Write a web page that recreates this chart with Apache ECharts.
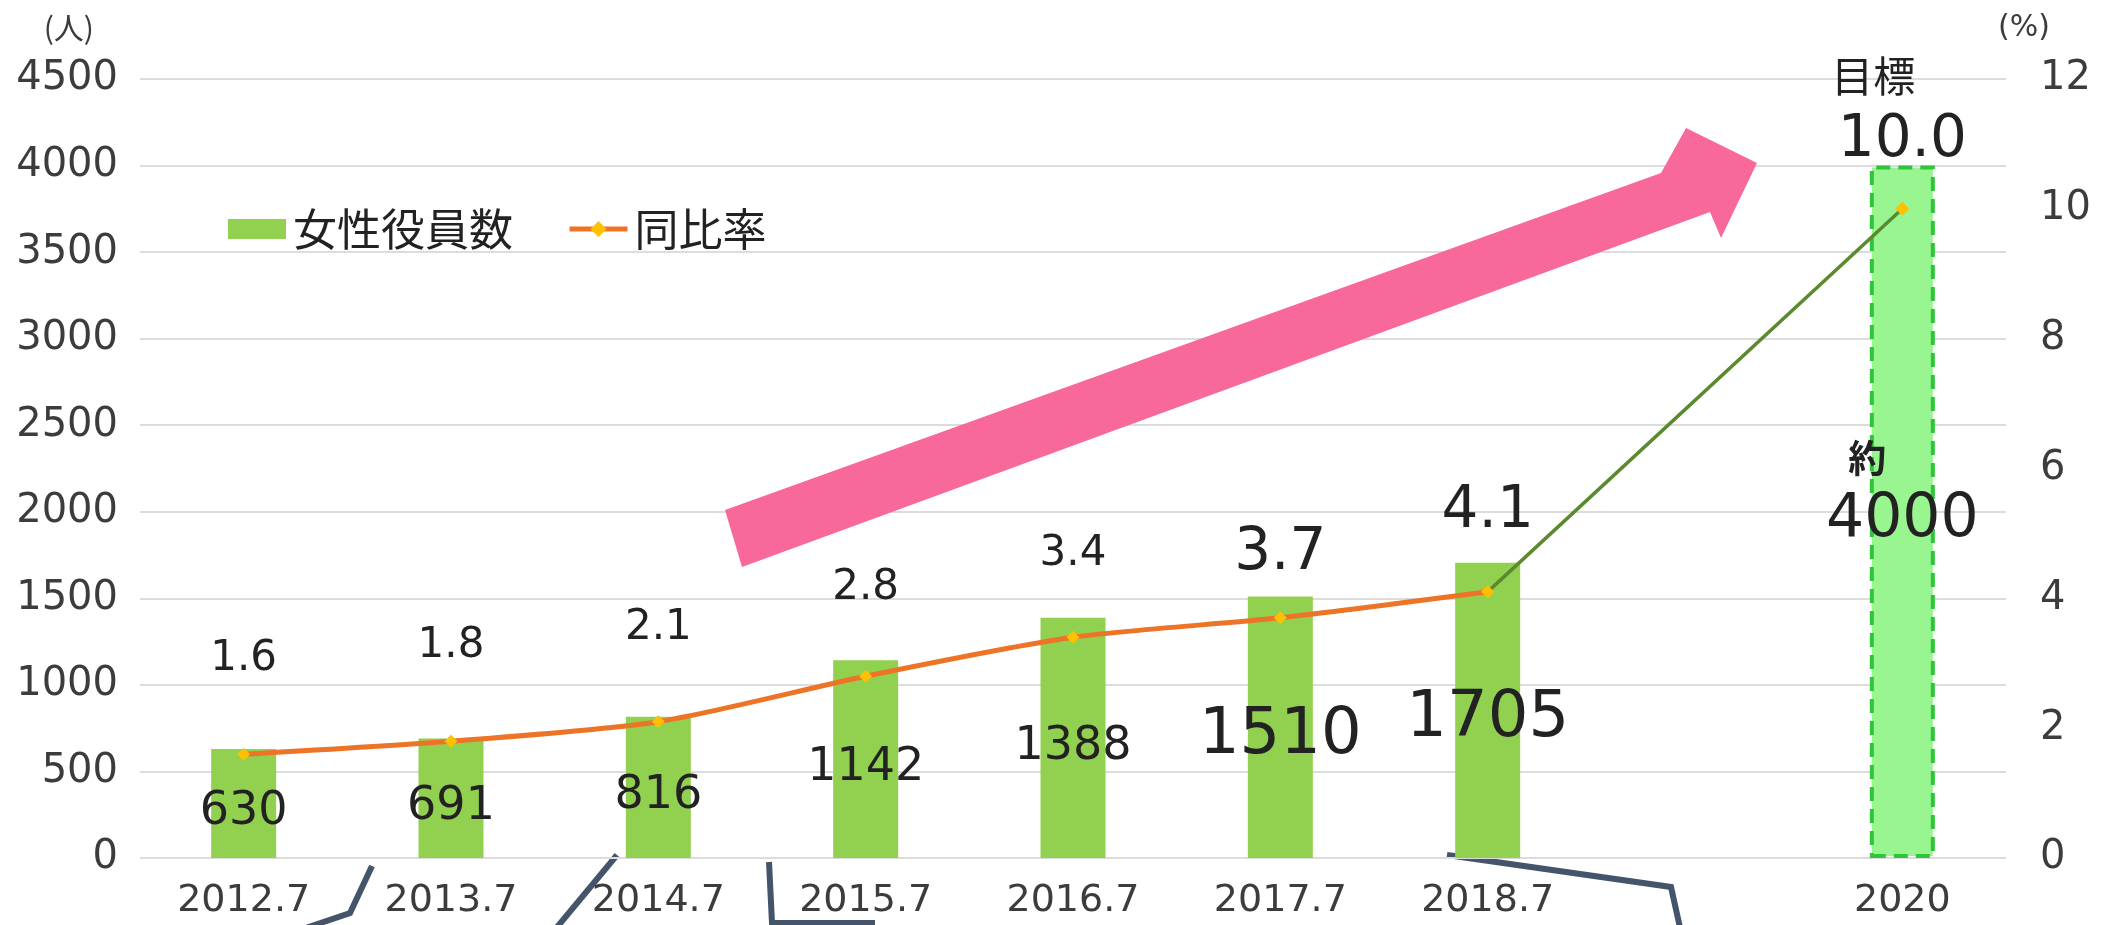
<!DOCTYPE html>
<html>
<head>
<meta charset="utf-8">
<title>女性役員数</title>
<script src="https://cdn.jsdelivr.net/npm/echarts@6/dist/echarts.min.js"></script>
<style>
  html, body { margin: 0; padding: 0; background: #fff; }
  #chart { width: 2107px; height: 925px; }
</style>
</head>
<body>
<div id="chart"></div>
<script>
// data
const categories = ['2012.7', '2013.7', '2014.7', '2015.7', '2016.7', '2017.7', '2018.7', '', '2020']
const officers = [630, 691, 816, 1142, 1388, 1510, 1705, null, 4000]
const rates = [1.6, 1.8, 2.1, 2.8, 3.4, 3.7, 4.1, null, null]
const targetRates = [null, null, null, null, null, null, 4.1, null, 10.0]
const leftTicks = { min: 0, max: 4500, interval: 500 }
const rightTicks = { min: 0, max: 12, interval: 2 }

const FONT = "'DejaVu Sans', 'Noto Sans CJK JP', sans-serif"
const CJK = "'Noto Sans CJK JP', sans-serif"
const TXT = '#222'
const AXIS_TXT = '#3c3c3c'

// label look per bar / point
const barLabelSize = [46, 46, 46, 46, 46, 64, 64, 46, 60]
const rateLabelSize = [42, 42, 42, 42, 42, 58, 58]
const rateLabelGap = [68, 68, 66, 61, 56, 28, 44]

const TARGET = 8

const chart = echarts.init(document.getElementById('chart'))

const barData = officers.map((v, i) => {
  if (i === TARGET) {
    return {
      value: v,
      itemStyle: {
        color: '#98F590',
        borderColor: '#2FC43A',
        borderWidth: 4,
        borderType: [14, 8]
      },
      label: {
        position: 'inside',
        offset: [0, -24],
        formatter: p => '{a|約}\n{b|' + p.value + '}',
        rich: {
          a: { fontFamily: CJK, fontWeight: 'bold', fontSize: 38, lineHeight: 66, color: TXT, padding: [0, 70, 0, 0] },
          b: { fontFamily: FONT, fontSize: 60, lineHeight: 60, color: TXT }
        }
      }
    }
  }
  return { value: v, label: { fontSize: barLabelSize[i], offset: [0, 9] } }
})

const rateData = rates.map((v, i) => v == null ? null : {
  value: v,
  label: { fontSize: rateLabelSize[i], distance: rateLabelGap[i] }
})

const targetData = targetRates.map((v, i) => {
  if (v == null) return null
  if (i !== TARGET) return { value: v, symbol: 'none', label: { show: false } }
  return {
    value: v,
    label: {
      show: true,
      position: 'top',
      distance: 32,
      formatter: p => '{t|目標}\n{v|' + p.value.toFixed(1) + '}',
      rich: {
        t: { fontFamily: CJK, fontSize: 42, lineHeight: 72, color: TXT, padding: [0, 58, 0, 0] },
        v: { fontFamily: FONT, fontSize: 58, lineHeight: 58, color: TXT }
      }
    }
  }
})

chart.setOption({
  animation: false,
  backgroundColor: '#fff',
  textStyle: { fontFamily: FONT },
  legend: {
    data: [
      { name: '女性役員数', icon: 'rect' },
      { name: '同比率', lineStyle: { width: 5 } }
    ],
    left: 223,
    top: 202,
    itemWidth: 58,
    itemHeight: 20,
    itemGap: 54,
    textStyle: { fontFamily: CJK, fontSize: 44, color: TXT, padding: [0, 0, 0, 2] }
  },
  grid: {
    left: 140,
    right: 101,
    top: 79,
    bottom: 67,
    outerBoundsMode: 'none'
  },
  xAxis: {
    type: 'category',
    data: categories,
    axisLine: { show: false },
    axisTick: { show: false },
    axisLabel: { interval: 0, fontSize: 38, color: AXIS_TXT, margin: 24 }
  },
  yAxis: [{
    type: 'value',
    min: leftTicks.min,
    max: leftTicks.max,
    interval: leftTicks.interval,
    name: '(人)',
    nameLocation: 'end',
    nameGap: 36,
    nameTextStyle: { fontFamily: CJK, fontSize: 30, color: AXIS_TXT, align: 'right', padding: [0, 46, 0, 0] },
    axisLine: { show: false },
    axisTick: { show: false },
    axisLabel: { fontSize: 40, color: AXIS_TXT, margin: 22, formatter: v => String(v) },
    splitLine: { lineStyle: { color: '#dcdcdc', width: 2 } }
  }, {
    type: 'value',
    min: rightTicks.min,
    max: rightTicks.max,
    interval: rightTicks.interval,
    name: '(%)',
    nameLocation: 'end',
    nameGap: 36,
    nameTextStyle: { fontSize: 30, color: AXIS_TXT, align: 'center', padding: [0, 0, 0, 36] },
    axisLine: { show: false },
    axisTick: { show: false },
    axisLabel: { fontSize: 40, color: AXIS_TXT, margin: 34 },
    splitLine: { show: false }
  }],
  series: [{
    name: '女性役員数',
    type: 'bar',
    data: barData,
    barWidth: 65,
    itemStyle: { color: '#92D050' },
    label: { show: true, position: 'inside', color: TXT, fontFamily: FONT },
    z: 2
  }, {
    name: '目標線',
    type: 'line',
    yAxisIndex: 1,
    data: targetData,
    connectNulls: true,
    symbol: 'diamond',
    symbolSize: 14,
    itemStyle: { color: '#FFC000' },
    lineStyle: { color: '#5B8A2E', width: 3.5 },
    z: 3
  }, {
    name: '同比率',
    type: 'line',
    yAxisIndex: 1,
    data: rateData,
    smooth: 0.25,
    symbol: 'diamond',
    symbolSize: 13,
    itemStyle: { color: '#FFC000' },
    lineStyle: { color: '#ED7426', width: 5 },
    label: { show: true, position: 'top', color: TXT, fontFamily: FONT },
    z: 4
  }],
  graphic: [{
    type: 'polygon',
    z: 1,
    shape: {
      points: [[725, 510], [1661, 173], [1686, 128], [1757, 163], [1721, 238], [1710, 212], [742, 567]]
    },
    style: { fill: '#F9689A' }
  }, {
    type: 'polyline',
    shape: { points: [[372, 866], [350, 913], [300, 930]] },
    style: { stroke: '#44546A', lineWidth: 6, fill: null }
  }, {
    type: 'polyline',
    shape: { points: [[617, 855], [553, 932]] },
    style: { stroke: '#44546A', lineWidth: 6, fill: null }
  }, {
    type: 'polyline',
    shape: { points: [[769, 862], [772, 923], [875, 923]] },
    style: { stroke: '#44546A', lineWidth: 6, fill: null }
  }, {
    type: 'polyline',
    shape: { points: [[1447, 855], [1671, 887], [1681, 932]] },
    style: { stroke: '#44546A', lineWidth: 6, fill: null }
  }]
})
</script>
</body>
</html>
